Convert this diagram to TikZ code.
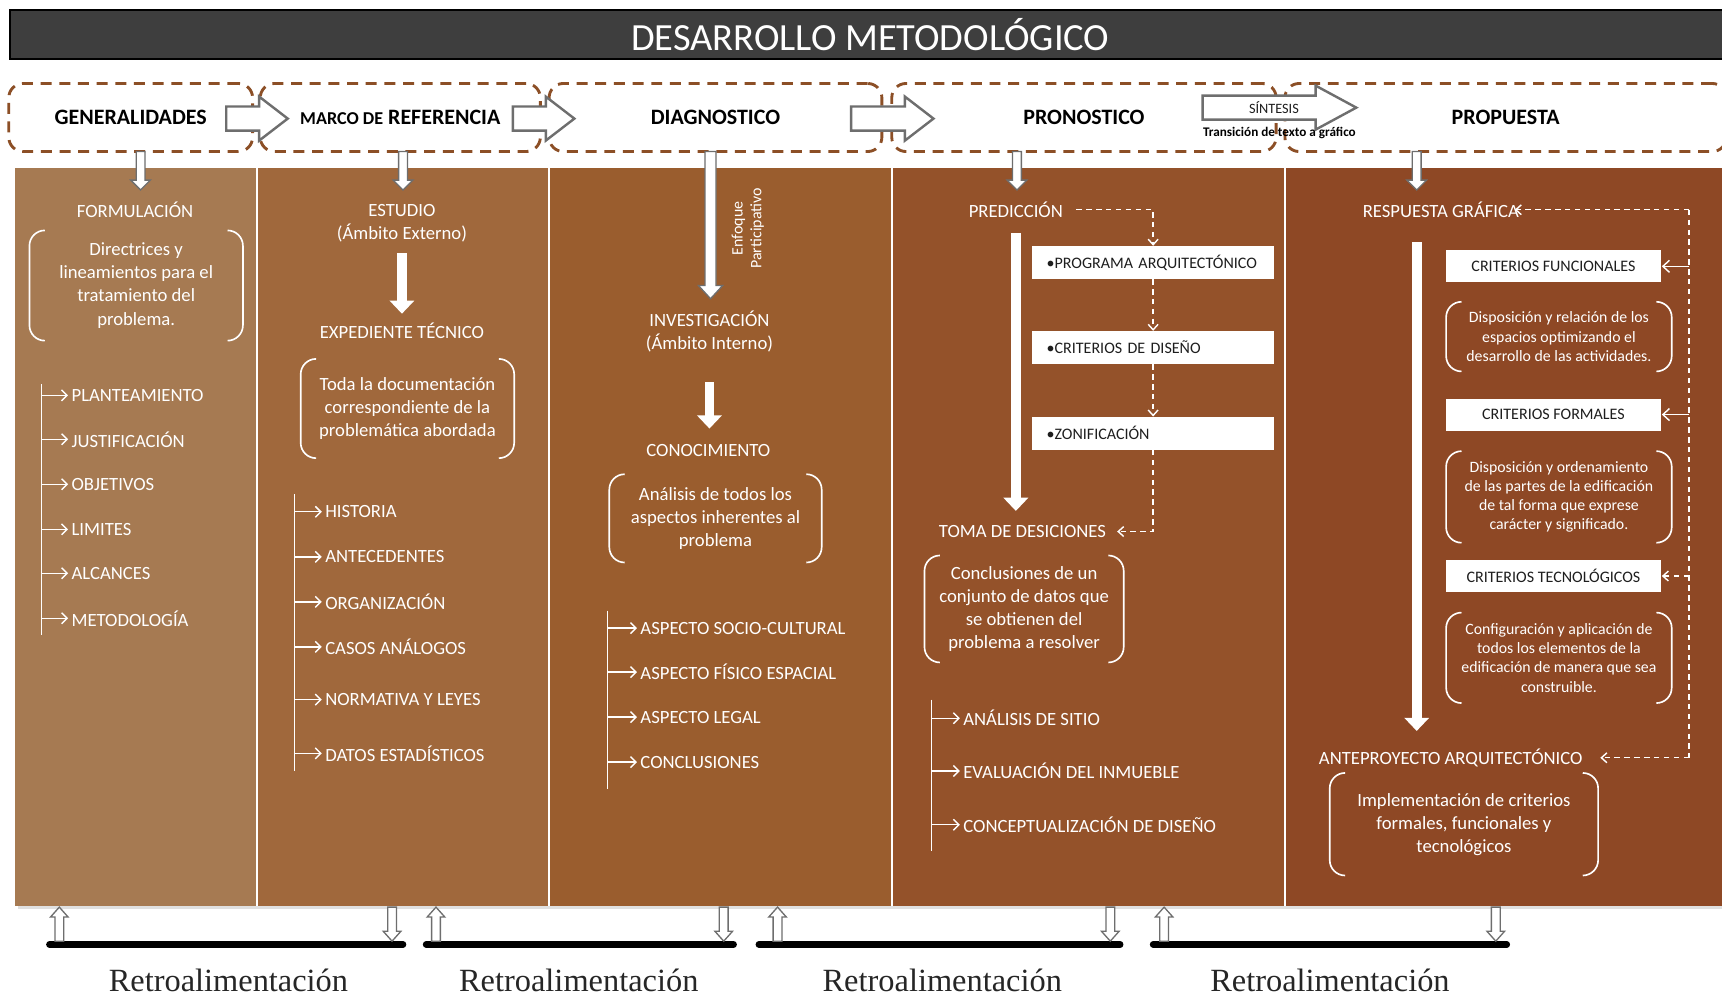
\documentclass[tikz,border=0pt]{standalone}
\usepackage{fontspec}
\setmainfont{Carlito}
\newfontfamily\retrofont{Liberation Serif}
\usetikzlibrary{arrows.meta}

\definecolor{colA}{HTML}{A67A52}
\definecolor{colB}{HTML}{A0683C}
\definecolor{colC}{HTML}{9A5D2E}
\definecolor{colD}{HTML}{94522A}
\definecolor{colE}{HTML}{8E4825}
\definecolor{hdrbrown}{HTML}{8C4F26}
\definecolor{titlegray}{HTML}{3E3E3E}
\definecolor{arrgray}{HTML}{6E6E6E}
\definecolor{boxtext}{HTML}{1E1E1E}

\tikzset{
  f20b/.style={font=\bfseries\fontsize{20}{24}\selectfont},
  f17/.style={font=\fontsize{17}{21}\selectfont},
  f14/.style={font=\fontsize{14.4}{17.5}\selectfont},
  f13/.style={font=\fontsize{13}{16}\selectfont},
  titlebar/.style={draw=black, line width=2pt, fill=titlegray, text=white,
    minimum width=1567pt, minimum height=45pt, inner sep=0pt,
    font=\fontsize{35}{40}\selectfont},
  hdr/.style={draw=hdrbrown, line width=2.6pt, dash pattern=on 10pt off 7pt,
    rounded corners=13pt, minimum height=62pt, inner sep=0pt, f20b},
  label/.style={text=white, inner sep=0pt, align=center, f17},
  item/.style={text=white, inner sep=0pt, anchor=west, f17},
  descr/.style={text=white, inner sep=0pt, align=center},
  wbox/.style={fill=white, text=boxtext, inner sep=0pt, font=\fontsize{14.6}{17}\selectfont},
  brk/.style={draw=white, line width=1.5pt, rounded corners=14pt},
  harrow/.style={fill=white, draw=arrgray, line width=2.2pt, line join=miter},
  sarrow/.style={fill=white, draw=arrgray, line width=1.2pt, line join=miter},
  warrow/.style={draw=white, line width=9pt, -{Triangle[width=22pt,length=12pt]}},
  dasharr/.style={draw=white, line width=1.3pt, dash pattern=on 5pt off 4pt,
    -{Straight Barb[length=5pt,width=9pt]}},
  dashline/.style={draw=white, line width=1.3pt, dash pattern=on 5pt off 4pt},
  solidarr/.style={draw=white, line width=1.3pt, -{Straight Barb[length=6pt,width=11pt]}},
  treeline/.style={draw=white, line width=1.3pt},
  treearr/.style={draw=white, line width=1.3pt, shorten >=3pt,
    -{Straight Barb[length=5pt,width=10pt]}},
  bar/.style={draw=black, line width=6pt, line cap=round},
  retro/.style={inner sep=0pt, text=black!85, font=\retrofont\fontsize{29.5}{34}\selectfont},
  pics/blockarrow/.style n args={4}{code={
    \path[pic actions] (0,-#2) -- ({#1-#4},-#2) -- ({#1-#4},-#3) -- (#1,0)
      -- ({#1-#4},#3) -- ({#1-#4},#2) -- (0,#2) -- cycle;}}
}

% rounded brackets on both sides of a text node
\newcommand\brackets[1]{%
  \draw[brk] ([xshift=14pt]#1.north west) -- (#1.north west) -- (#1.south west) -- ([xshift=14pt]#1.south west);
  \draw[brk] ([xshift=-14pt]#1.north east) -- (#1.north east) -- (#1.south east) -- ([xshift=-14pt]#1.south east);}

\begin{document}
\begin{tikzpicture}[x=1pt,y=-1pt]
\useasboundingbox (0,0) rectangle (1568,907);
\fill[white] (0,0) rectangle (1568,907);

% title bar
\node[titlebar, anchor=north west] (title) at (8,8) {DESARROLLO METODOLÓGICO};

% column panels
\fill[black!12] (16,825) rectangle (1568,828);
\fill[colA] (14,153) rectangle (233,825);
\fill[colB] (235,153) rectangle (499,825);
\fill[colC] (501,153) rectangle (811,825);
\fill[colD] (813,153) rectangle (1169,825);
\fill[colE] (1171,153) rectangle (1568,825);

% phase headers
\node[hdr, minimum width=222pt] (gen) at (119,107) {GENERALIDADES};
\node[hdr, minimum width=255pt] (marco) at (364.5,107) {{\fontsize{16.5}{20}\selectfont MARCO DE} REFERENCIA};
\node[hdr, minimum width=303pt] (diag) at (651.5,107) {DIAGNOSTICO};
\node[hdr, minimum width=350pt] (pron) at (987,107) {PRONOSTICO};
\node[hdr, minimum width=402pt] (prop) at (1371,107) {PROPUESTA};

% block arrows between phases
\pic[harrow] at (206,108) {blockarrow={56}{11}{20}{26}};
\pic[harrow] at (467,108) {blockarrow={56}{11}{20}{26}};
\pic[harrow] at (775,108) {blockarrow={75}{11}{20}{26}};
\pic[harrow] at (1095,98) {blockarrow={140}{11}{20}{37}};
\node[inner sep=0pt, text=boxtext, f13] (sint) at (1160,98) {SÍNTESIS};
\node[inner sep=0pt, text=black, font=\bfseries\fontsize{12}{14}\selectfont] (trans) at (1165,121) {Transición de texto a gráfico};

% arrows from the headers into the columns
\pic[sarrow, rotate=-90] at (128,138) {blockarrow={35}{4}{9}{9}};
\pic[sarrow, rotate=-90] at (367,138) {blockarrow={35}{4}{9}{9}};
\pic[sarrow, rotate=-90] at (647,138) {blockarrow={134}{5}{11}{12}};
\pic[sarrow, rotate=-90] at (926,138) {blockarrow={35}{4}{9}{9}};
\pic[sarrow, rotate=-90] at (1290,138) {blockarrow={35}{4}{9}{9}};

% ---- GENERALIDADES
\node[label] (form) at (123,191) {FORMULACIÓN};
\node[descr, f17, minimum width=194pt, minimum height=100pt] (d1) at (124,260)
  {Directrices y\\lineamientos para el\\tratamiento del\\problema.};
\brackets{d1}
\coordinate (t1a) at (38,350);
\coordinate (t1b) at (38,578);
\draw[treeline] (t1a) -- (t1b);
\foreach \n/\y/\t in {1/360/PLANTEAMIENTO, 2/400/JUSTIFICACIÓN, 3/441/OBJETIVOS,
  4/482/LIMITES, 5/522/ALCANCES, 6/563/METODOLOGÍA}{
  \node[item] (g\n) at (65,\y) {\t};
  \draw[treearr] (g\n.west -| t1a) -- (g\n.west);
}

% ---- MARCO DE REFERENCIA
\node[label] (estudio) at (366,203) {ESTUDIO\\(Ámbito Externo)};
\node[label] (exped) at (366,301) {EXPEDIENTE TÉCNICO};
\draw[warrow, shorten <=10pt, shorten >=8pt] (estudio.south) -- (exped.north);
\node[descr, f17, minimum width=194pt, minimum height=90pt] (d2) at (371,372)
  {Toda la documentación\\correspondiente de la\\problemática abordada};
\brackets{d2}
\coordinate (t2a) at (268,450);
\coordinate (t2b) at (268,702);
\draw[treeline] (t2a) -- (t2b);
\foreach \n/\y/\t in {1/466/HISTORIA, 2/507/ANTECEDENTES, 3/548/ORGANIZACIÓN,
  4/589/CASOS ANÁLOGOS, 5/637/NORMATIVA Y LEYES, 6/686/DATOS ESTADÍSTICOS}{
  \node[item] (m\n) at (296,\y) {\t};
  \draw[treearr] (m\n.west -| t2a) -- (m\n.west);
}

% ---- DIAGNOSTICO
\node[text=white, inner sep=0pt, align=center, rotate=90, font=\fontsize{14.5}{17}\selectfont] (enfoque) at (681,208) {Enfoque\\Participativo};
\node[label] (invest) at (646,302) {INVESTIGACIÓN\\(Ámbito Interno)};
\node[label] (conoc) at (645,410) {CONOCIMIENTO};
\draw[warrow, shorten <=27pt, shorten >=14pt] (invest.south) -- (invest.south |- conoc.north);
\node[descr, f17, minimum width=193pt, minimum height=80pt] (d3) at (651.5,472)
  {Análisis de todos los\\aspectos inherentes al\\problema};
\brackets{d3}
\coordinate (t3a) at (553,556);
\coordinate (t3b) at (553,718);
\draw[treeline] (t3a) -- (t3b);
\foreach \n/\y/\t in {1/572/ASPECTO SOCIO-CULTURAL, 2/612/ASPECTO FÍSICO ESPACIAL,
  3/653/ASPECTO LEGAL, 4/694/CONCLUSIONES}{
  \node[item] (k\n) at (583,\y) {\t};
  \draw[treearr] (k\n.west -| t3a) -- (k\n.west);
}

% ---- PRONOSTICO
\node[label] (pred) at (925,191) {PREDICCIÓN};
\node[label] (toma) at (931,484) {TOMA DE DESICIONES};
\draw[warrow, shorten <=14pt, shorten >=13pt] (pred.south) -- (pred.south |- toma.north);
\node[wbox, minimum width=220pt, minimum height=30pt, text width=194pt, align=left] (prog) at (1050,239) {•PROGRAMA ARQUITECTÓNICO};
\node[wbox, minimum width=220pt, minimum height=30pt, text width=194pt, align=left] (crit) at (1050,316.5) {•CRITERIOS DE DISEÑO};
\node[wbox, minimum width=220pt, minimum height=30pt, text width=194pt, align=left] (zon) at (1050,394.5) {•ZONIFICACIÓN};
\draw[dasharr, shorten <=12pt] (pred.east) -| (prog.north);
\draw[dasharr] (prog.south) -- (crit.north);
\draw[dasharr] (crit.south) -- (zon.north);
\draw[dasharr, shorten >=10pt] (zon.south) |- (toma.east);
\node[descr, f17, minimum width=181pt, minimum height=97pt] (d4) at (932.5,554.5)
  {Conclusiones de un\\conjunto de datos que\\se obtienen del\\problema a resolver};
\brackets{d4}
\coordinate (t4a) at (848,637);
\coordinate (t4b) at (848,775);
\draw[treeline] (t4a) -- (t4b);
\foreach \n/\y/\t in {1/654/ANÁLISIS DE SITIO, 2/702/EVALUACIÓN DEL INMUEBLE,
  3/751/CONCEPTUALIZACIÓN DE DISEÑO}{
  \node[item] (p\n) at (877,\y) {\t};
  \draw[treearr] (p\n.west -| t4a) -- (p\n.west);
}

% ---- PROPUESTA
\node[label] (resp) at (1312,191) {RESPUESTA GRÁFICA};
\node[label] (ante) at (1321,690) {ANTEPROYECTO ARQUITECTÓNICO};
\draw[warrow, shorten <=22pt, shorten >=16pt] ([xshift=-22pt]resp.south) -- ([xshift=-22pt]resp.south |- ante.north);
\node[wbox, minimum width=195pt, minimum height=29pt] (cfun) at (1414.5,242.5) {CRITERIOS FUNCIONALES};
\node[wbox, minimum width=195pt, minimum height=29pt] (cfor) at (1414.5,377.5) {CRITERIOS FORMALES};
\node[wbox, minimum width=195pt, minimum height=29pt] (ctec) at (1414.5,524.5) {CRITERIOS TECNOLÓGICOS};
\node[descr, f14, minimum width=205pt, minimum height=63pt] (d5) at (1419.5,306.5)
  {Disposición y relación de los\\espacios optimizando el\\desarrollo de las actividades.};
\brackets{d5}
\node[descr, f14, minimum width=205pt, minimum height=83pt] (d6) at (1419.5,452.5)
  {Disposición y ordenamiento\\de las partes de la edificación\\de tal forma que exprese\\carácter y significado.};
\brackets{d6}
\node[descr, f14, minimum width=205pt, minimum height=82pt] (d7) at (1419.5,599)
  {Configuración y aplicación de\\todos los elementos de la\\edificación de manera que sea\\construible.};
\brackets{d7}
\node[descr, f17, minimum width=244pt, minimum height=93pt] (d8) at (1333,750.5)
  {Implementación de criterios\\formales, funcionales y\\tecnológicos};
\brackets{d8}
\coordinate (bt) at (1538,191);
\coordinate (bb) at (1538,690);
\draw[dashline] (bt) -- (bb);
\draw[dasharr, shorten >=-4pt] (bt) -- (resp.east);
\draw[dasharr, shorten >=16pt] (bb) -- (ante.east);
\draw[solidarr, shorten >=1pt] (cfun.east -| bt) -- (cfun.east);
\draw[solidarr, shorten >=1pt] (cfor.east -| bt) -- (cfor.east);
\draw[dasharr, shorten >=1pt] (ctec.east -| bt) -- (ctec.east);

% ---- feedback loops
\draw[bar] (45,860) -- (367,860);
\draw[bar] (388,860) -- (668,860);
\draw[bar] (691,860) -- (1020,860);
\draw[bar] (1050,860) -- (1372,860);
\foreach \x in {54,397,708,1060}{
  \pic[sarrow, rotate=90] at (\x,857) {blockarrow={31}{4}{8}{9}};
}
\foreach \x in {357,659,1011,1362}{
  \pic[sarrow, rotate=-90] at (\x,826) {blockarrow={31}{4}{8}{9}};
}
\node[retro] (r1) at (208,893) {Retroalimentación};
\node[retro] (r2) at (527,893) {Retroalimentación};
\node[retro] (r3) at (858,893) {Retroalimentación};
\node[retro] (r4) at (1211,893) {Retroalimentación};
\end{tikzpicture}
\end{document}
